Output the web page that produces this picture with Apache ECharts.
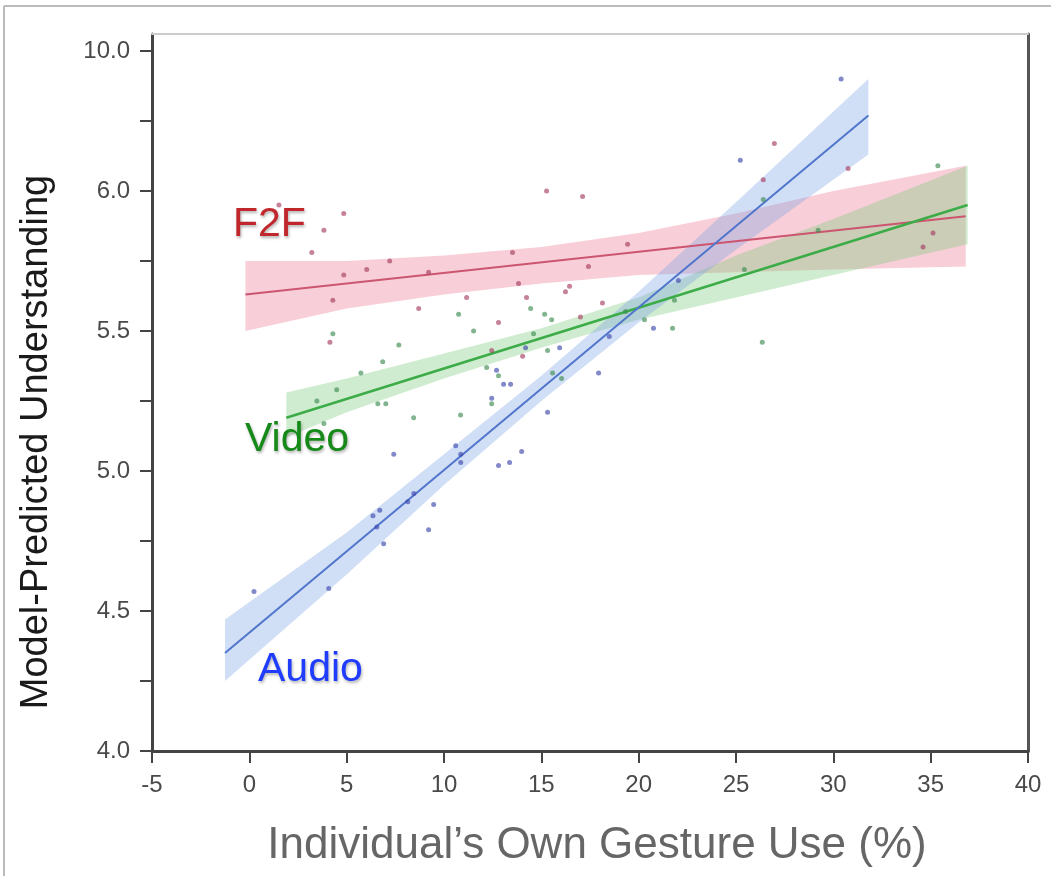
<!DOCTYPE html>
<html>
<head>
<meta charset="utf-8">
<title>Model-Predicted Understanding</title>
<script src="https://cdn.jsdelivr.net/npm/echarts@6/dist/echarts.min.js"></script>
<style>
  html, body { margin: 0; padding: 0; background: #fff; }
  #myChart { width: 1051px; height: 876px; }
</style>
</head>
<body>
<div id="myChart"></div>
<script>
// axis ticks
var xTicks = [-5, 0, 5, 10, 15, 20, 25, 30, 35, 40];
var yTickValues = [4.0, 4.5, 5.0, 5.5, 6.0, 6.5];
var yTickLabels = ['4.0', '4.5', '5.0', '5.5', '6.0', '10.0'];
var yAllTicks = [4.0, 4.25, 4.5, 4.75, 5.0, 5.25, 5.5, 5.75, 6.0, 6.25, 6.5];

// F2F points
var f2fX = [1.52, 4.85, 3.83, 3.21, 4.85, 6.03, 7.21, 9.21, 4.29, 8.70, 11.16, 12.80, 13.52, 13.83, 4.14,
            15.27, 17.12, 19.43, 17.42, 16.45, 16.24, 14.24, 17.01, 18.14, 12.45, 14.04, 26.97, 26.40, 30.76, 35.12, 34.61];
var f2fY = [5.95, 5.92, 5.86, 5.78, 5.70, 5.72, 5.75, 5.71, 5.61, 5.58, 5.62, 5.53, 5.78, 5.67, 5.46,
            6.00, 5.98, 5.81, 5.73, 5.66, 5.64, 5.62, 5.55, 5.60, 5.43, 5.41, 6.17, 6.04, 6.08, 5.85, 5.80];

// Video points
var videoX = [4.29, 10.75, 11.52, 14.45, 15.17, 15.53, 19.33, 20.30, 21.74, 21.84, 14.60, 15.32, 7.68, 6.85, 5.73,
              12.19, 12.80, 15.58, 16.04, 6.60, 7.01, 12.45, 8.44, 10.85, 4.49, 3.47, 3.83, 26.40, 35.37, 29.22, 25.43, 26.35];
var videoY = [5.49, 5.56, 5.50, 5.58, 5.56, 5.54, 5.57, 5.54, 5.51, 5.61, 5.49, 5.43, 5.45, 5.39, 5.35,
              5.37, 5.34, 5.35, 5.33, 5.24, 5.24, 5.24, 5.19, 5.20, 5.29, 5.25, 5.17, 5.97, 6.09, 5.86, 5.72, 5.46];

// Audio points
var audioX = [20.76, 22.04, 14.19, 15.94, 12.70, 13.06, 13.42, 17.94, 12.45, 15.32, 7.42, 10.60, 10.86, 10.86, 13.99,
              13.37, 12.80, 9.47, 9.21, 8.45, 8.14, 6.35, 6.70, 6.55, 6.90, 0.24, 4.08, 30.40, 25.22, 18.49];
var audioY = [5.51, 5.68, 5.44, 5.44, 5.36, 5.31, 5.31, 5.35, 5.26, 5.21, 5.06, 5.09, 5.06, 5.03, 5.07,
              5.03, 5.02, 4.88, 4.79, 4.92, 4.89, 4.84, 4.86, 4.80, 4.74, 4.57, 4.58, 6.40, 6.11, 5.48];

// fitted lines
var f2fLineX = [-0.2, 36.8];
var f2fLineY = [5.63, 5.91];
var videoLineX = [1.9, 36.9];
var videoLineY = [5.19, 5.95];
var audioLineX = [-1.25, 31.8];
var audioLineY = [4.35, 6.27];

// confidence bands
var f2fBandX = [-0.2, 5, 10, 15, 20, 25, 30, 36.8];
var f2fBandLo = [5.50, 5.58, 5.63, 5.67, 5.70, 5.71, 5.72, 5.73];
var f2fBandHi = [5.75, 5.75, 5.77, 5.80, 5.85, 5.92, 6.00, 6.09];
var videoBandX = [1.9, 5, 10, 15, 20, 25, 30, 36.9];
var videoBandLo = [5.12, 5.21, 5.33, 5.44, 5.54, 5.62, 5.70, 5.81];
var videoBandHi = [5.28, 5.33, 5.42, 5.51, 5.62, 5.77, 5.90, 6.09];
var audioBandX = [-1.25, 5, 10, 15, 20, 25, 31.8];
var audioBandLo = [4.25, 4.63, 4.95, 5.25, 5.53, 5.79, 6.13];
var audioBandHi = [4.47, 4.78, 5.06, 5.34, 5.64, 5.96, 6.40];

function zip(xs, ys) {
  return xs.map(function (x, i) { return [x, ys[i]]; });
}

function bandSeries(xs, lo, hi, color) {
  return {
    type: 'custom',
    silent: true,
    z: 1,
    data: [[xs[0], lo[0]]],
    renderItem: function (params, api) {
      var pts = [];
      for (var i = 0; i < xs.length; i++) pts.push(api.coord([xs[i], hi[i]]));
      for (var j = xs.length - 1; j >= 0; j--) pts.push(api.coord([xs[j], lo[j]]));
      return { type: 'polygon', shape: { points: pts }, style: { fill: color } };
    }
  };
}

function lineSeries(xs, ys, color, width) {
  return {
    type: 'line', data: zip(xs, ys), showSymbol: false, silent: true, z: 3,
    lineStyle: { color: color, width: width }
  };
}

function dotSeries(xs, ys, color) {
  return {
    type: 'scatter', data: zip(xs, ys), symbolSize: 5, silent: true, z: 4,
    itemStyle: { color: color }
  };
}

var labelShadow = { textShadowColor: 'rgba(0,0,0,0.3)', textShadowBlur: 3, textShadowOffsetX: 1, textShadowOffsetY: 2 };
var font = 'Liberation Sans, Arial, sans-serif';

let myChart = echarts.init(document.getElementById('myChart'));

var option = {
  backgroundColor: '#fff',
  animation: false,
  grid: { left: 152, right: 23, top: 34, bottom: 125 },
  xAxis: [
    {
      type: 'value', min: -5, max: 40, interval: 5,
      axisLine: { onZero: false, lineStyle: { color: '#444', width: 3 } },
      axisTick: { length: 12, lineStyle: { color: '#444', width: 2 } },
      axisLabel: { margin: 22, fontSize: 24, color: '#4a4a4a', fontFamily: font },
      splitLine: { show: false }
    },
    {
      type: 'value', position: 'top', min: -5, max: 40,
      axisLine: { show: true, onZero: false, lineStyle: { color: '#ccc', width: 2 } },
      axisTick: { show: false }, axisLabel: { show: false }, splitLine: { show: false }
    }
  ],
  yAxis: [
    {
      type: 'value', min: 4, max: 6.5607,
      axisLine: { onZero: false, lineStyle: { color: '#444', width: 3 } },
      axisTick: { length: 12, customValues: yAllTicks, lineStyle: { color: '#444', width: 2 } },
      axisLabel: {
        customValues: yTickValues, margin: 22, fontSize: 24, color: '#4a4a4a', fontFamily: font,
        formatter: function (v) {
          var i = yTickValues.indexOf(Math.round(v * 100) / 100);
          return i >= 0 ? yTickLabels[i] : '';
        }
      },
      splitLine: { show: false }
    },
    {
      type: 'value', position: 'right', min: 4, max: 6.5607,
      axisLine: { show: true, onZero: false, lineStyle: { color: '#555', width: 3 } },
      axisTick: { show: false }, axisLabel: { show: false }, splitLine: { show: false }
    }
  ],
  graphic: [
    { type: 'line', shape: { x1: 4, y1: 6, x2: 1051, y2: 6 }, style: { stroke: '#bbb', lineWidth: 2 } },
    { type: 'line', shape: { x1: 4, y1: 6, x2: 4, y2: 876 }, style: { stroke: '#bbb', lineWidth: 2 } },
    {
      type: 'text', x: 37, y: 442, rotation: Math.PI / 2,
      style: { text: 'Model-Predicted Understanding', fill: '#1a1a1a', fontSize: 38,
        fontFamily: font, align: 'center', verticalAlign: 'middle' }
    },
    {
      type: 'text', x: 597, y: 846,
      style: { text: 'Individual\u2019s Own Gesture Use (%)', fill: '#666', fontSize: 44,
        fontFamily: font, align: 'center', verticalAlign: 'middle' }
    },
    {
      type: 'text', x: 233, y: 225, z: 10,
      style: Object.assign({ text: 'F2F', fill: '#c0262c', fontSize: 41,
        fontFamily: font, align: 'left', verticalAlign: 'middle' }, labelShadow)
    },
    {
      type: 'text', x: 245, y: 440, z: 10,
      style: Object.assign({ text: 'Video', fill: '#158a18', fontSize: 41,
        fontFamily: font, align: 'left', verticalAlign: 'middle' }, labelShadow)
    },
    {
      type: 'text', x: 258, y: 670, z: 10,
      style: Object.assign({ text: 'Audio', fill: '#1f3cff', fontSize: 41,
        fontFamily: font, align: 'left', verticalAlign: 'middle' }, labelShadow)
    }
  ],
  series: [
    bandSeries(f2fBandX, f2fBandLo, f2fBandHi, 'rgba(232,105,135,0.32)'),
    bandSeries(videoBandX, videoBandLo, videoBandHi, 'rgba(120,200,120,0.35)'),
    bandSeries(audioBandX, audioBandLo, audioBandHi, 'rgba(120,160,230,0.35)'),
    lineSeries(f2fLineX, f2fLineY, '#cc5570', 2),
    lineSeries(videoLineX, videoLineY, '#3cac48', 2.5),
    lineSeries(audioLineX, audioLineY, '#5076cc', 2),
    dotSeries(f2fX, f2fY, 'rgba(165,60,95,0.8)'),
    dotSeries(videoX, videoY, 'rgba(60,140,80,0.8)'),
    dotSeries(audioX, audioY, 'rgba(60,70,170,0.8)')
  ]
};

myChart.setOption(option);
</script>
</body>
</html>
